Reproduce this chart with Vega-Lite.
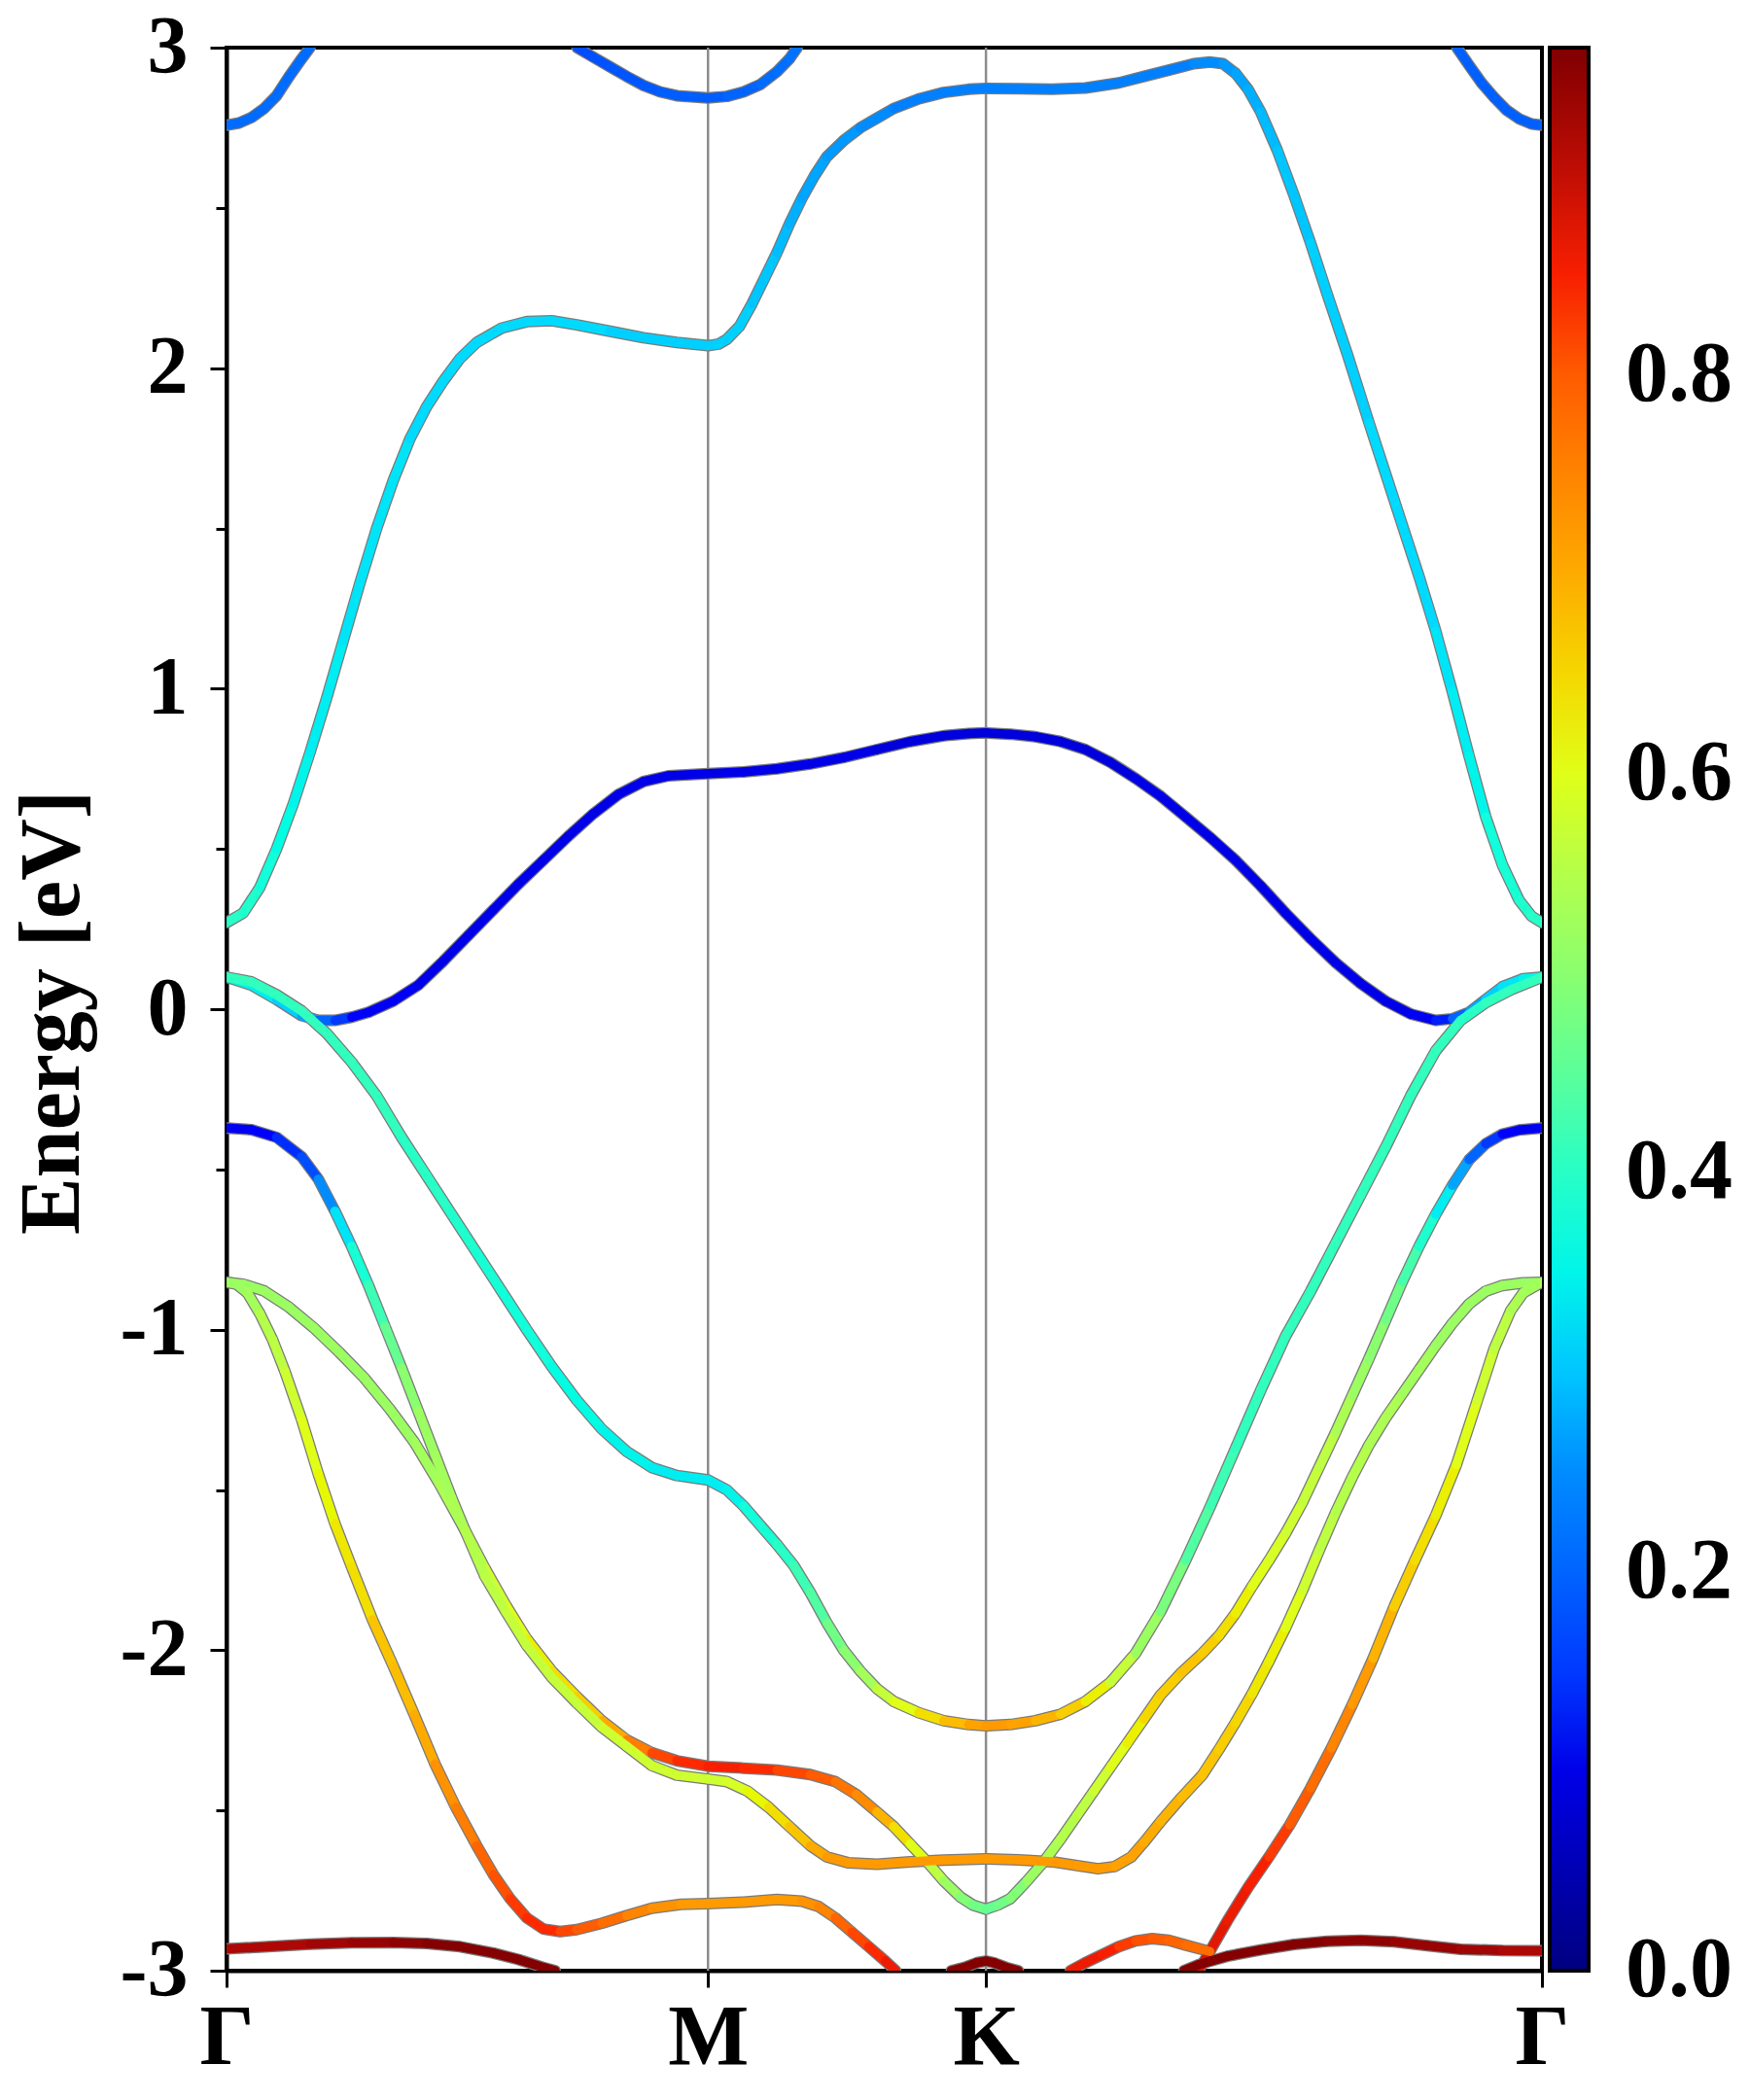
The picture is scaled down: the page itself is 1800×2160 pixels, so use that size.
{
  "$schema": "https://vega.github.io/schema/vega-lite/v6.json",
  "autosize": "none",
  "width": 1353,
  "height": 1978,
  "padding": {"left": 233, "top": 49, "right": 214, "bottom": 133},
  "background": "white",
  "config": {
    "view": {"stroke": "black", "strokeWidth": 4},
    "axis": {
      "labelFont": "Liberation Serif", "labelFontWeight": "bold", "labelColor": "black",
      "titleFont": "Liberation Serif", "titleFontWeight": "bold", "titleColor": "black",
      "domainColor": "black", "domainWidth": 4, "tickColor": "black", "tickWidth": 3, "grid": false
    }
  },
  "datasets": {
    "sym": [{"k": 0.5774}, {"k": 0.9107}],
    "bands": [
      {"band": "C1", "k": 0, "e": 2.758, "w": 0.21},
      {"band": "C1", "k": 0.015, "e": 2.765, "w": 0.21},
      {"band": "C1", "k": 0.03, "e": 2.782, "w": 0.21},
      {"band": "C1", "k": 0.045, "e": 2.81, "w": 0.21},
      {"band": "C1", "k": 0.06, "e": 2.85, "w": 0.21},
      {"band": "C1", "k": 0.075, "e": 2.91, "w": 0.21},
      {"band": "C1", "k": 0.09, "e": 2.965, "w": 0.21},
      {"band": "C1", "k": 0.1001, "e": 3.0, "w": 0.21},

      {"band": "C1R", "k": 1.4755, "e": 3.0, "w": 0.195},
      {"band": "C1R", "k": 1.49, "e": 2.945, "w": 0.195},
      {"band": "C1R", "k": 1.505, "e": 2.89, "w": 0.195},
      {"band": "C1R", "k": 1.52, "e": 2.845, "w": 0.195},
      {"band": "C1R", "k": 1.535, "e": 2.805, "w": 0.195},
      {"band": "C1R", "k": 1.55, "e": 2.778, "w": 0.195},
      {"band": "C1R", "k": 1.565, "e": 2.762, "w": 0.195},
      {"band": "C1R", "k": 1.5774, "e": 2.758, "w": 0.195},

      {"band": "C2", "k": 0.4204, "e": 3.0, "w": 0.17},
      {"band": "C2", "k": 0.44, "e": 2.97, "w": 0.175},
      {"band": "C2", "k": 0.46, "e": 2.94, "w": 0.18},
      {"band": "C2", "k": 0.48, "e": 2.91, "w": 0.18},
      {"band": "C2", "k": 0.5, "e": 2.882, "w": 0.185},
      {"band": "C2", "k": 0.52, "e": 2.862, "w": 0.19},
      {"band": "C2", "k": 0.54, "e": 2.85, "w": 0.19},
      {"band": "C2", "k": 0.5774, "e": 2.843, "w": 0.19},
      {"band": "C2", "k": 0.6, "e": 2.848, "w": 0.2},
      {"band": "C2", "k": 0.62, "e": 2.862, "w": 0.2},
      {"band": "C2", "k": 0.64, "e": 2.885, "w": 0.21},
      {"band": "C2", "k": 0.66, "e": 2.925, "w": 0.215},
      {"band": "C2", "k": 0.675, "e": 2.965, "w": 0.22},
      {"band": "C2", "k": 0.6843, "e": 3.0, "w": 0.22},

      {"band": "C3", "k": 0, "e": 0.27, "w": 0.4},
      {"band": "C3", "k": 0.02, "e": 0.3, "w": 0.39},
      {"band": "C3", "k": 0.04, "e": 0.38, "w": 0.37},
      {"band": "C3", "k": 0.06, "e": 0.5, "w": 0.36},
      {"band": "C3", "k": 0.08, "e": 0.64, "w": 0.35},
      {"band": "C3", "k": 0.1, "e": 0.8, "w": 0.34},
      {"band": "C3", "k": 0.12, "e": 0.97, "w": 0.34},
      {"band": "C3", "k": 0.14, "e": 1.15, "w": 0.33},
      {"band": "C3", "k": 0.16, "e": 1.33, "w": 0.33},
      {"band": "C3", "k": 0.18, "e": 1.5, "w": 0.33},
      {"band": "C3", "k": 0.2, "e": 1.65, "w": 0.33},
      {"band": "C3", "k": 0.22, "e": 1.78, "w": 0.32},
      {"band": "C3", "k": 0.24, "e": 1.88, "w": 0.32},
      {"band": "C3", "k": 0.26, "e": 1.96, "w": 0.32},
      {"band": "C3", "k": 0.28, "e": 2.03, "w": 0.32},
      {"band": "C3", "k": 0.3, "e": 2.08, "w": 0.32},
      {"band": "C3", "k": 0.33, "e": 2.125, "w": 0.32},
      {"band": "C3", "k": 0.36, "e": 2.145, "w": 0.32},
      {"band": "C3", "k": 0.39, "e": 2.148, "w": 0.32},
      {"band": "C3", "k": 0.42, "e": 2.135, "w": 0.32},
      {"band": "C3", "k": 0.46, "e": 2.115, "w": 0.31},
      {"band": "C3", "k": 0.5, "e": 2.095, "w": 0.31},
      {"band": "C3", "k": 0.54, "e": 2.08, "w": 0.31},
      {"band": "C3", "k": 0.5774, "e": 2.07, "w": 0.31},
      {"band": "C3", "k": 0.59, "e": 2.075, "w": 0.31},
      {"band": "C3", "k": 0.6, "e": 2.09, "w": 0.31},
      {"band": "C3", "k": 0.615, "e": 2.13, "w": 0.31},
      {"band": "C3", "k": 0.63, "e": 2.2, "w": 0.3},
      {"band": "C3", "k": 0.645, "e": 2.28, "w": 0.3},
      {"band": "C3", "k": 0.66, "e": 2.36, "w": 0.29},
      {"band": "C3", "k": 0.675, "e": 2.45, "w": 0.28},
      {"band": "C3", "k": 0.69, "e": 2.53, "w": 0.27},
      {"band": "C3", "k": 0.705, "e": 2.6, "w": 0.27},
      {"band": "C3", "k": 0.72, "e": 2.66, "w": 0.26},
      {"band": "C3", "k": 0.74, "e": 2.71, "w": 0.26},
      {"band": "C3", "k": 0.76, "e": 2.75, "w": 0.25},
      {"band": "C3", "k": 0.78, "e": 2.78, "w": 0.25},
      {"band": "C3", "k": 0.8, "e": 2.81, "w": 0.24},
      {"band": "C3", "k": 0.83, "e": 2.84, "w": 0.24},
      {"band": "C3", "k": 0.86, "e": 2.86, "w": 0.24},
      {"band": "C3", "k": 0.89, "e": 2.87, "w": 0.24},
      {"band": "C3", "k": 0.9107, "e": 2.873, "w": 0.24},
      {"band": "C3", "k": 0.95, "e": 2.872, "w": 0.24},
      {"band": "C3", "k": 0.99, "e": 2.87, "w": 0.24},
      {"band": "C3", "k": 1.03, "e": 2.874, "w": 0.24},
      {"band": "C3", "k": 1.07, "e": 2.89, "w": 0.24},
      {"band": "C3", "k": 1.1, "e": 2.91, "w": 0.24},
      {"band": "C3", "k": 1.13, "e": 2.93, "w": 0.24},
      {"band": "C3", "k": 1.16, "e": 2.95, "w": 0.25},
      {"band": "C3", "k": 1.18, "e": 2.955, "w": 0.25},
      {"band": "C3", "k": 1.195, "e": 2.95, "w": 0.26},
      {"band": "C3", "k": 1.21, "e": 2.92, "w": 0.27},
      {"band": "C3", "k": 1.225, "e": 2.87, "w": 0.28},
      {"band": "C3", "k": 1.24, "e": 2.8, "w": 0.29},
      {"band": "C3", "k": 1.26, "e": 2.68, "w": 0.3},
      {"band": "C3", "k": 1.28, "e": 2.54, "w": 0.3},
      {"band": "C3", "k": 1.3, "e": 2.39, "w": 0.31},
      {"band": "C3", "k": 1.32, "e": 2.23, "w": 0.31},
      {"band": "C3", "k": 1.3445, "e": 2.04, "w": 0.31},
      {"band": "C3", "k": 1.37, "e": 1.83, "w": 0.32},
      {"band": "C3", "k": 1.4, "e": 1.59, "w": 0.32},
      {"band": "C3", "k": 1.43, "e": 1.35, "w": 0.32},
      {"band": "C3", "k": 1.45, "e": 1.18, "w": 0.33},
      {"band": "C3", "k": 1.47, "e": 0.99, "w": 0.34},
      {"band": "C3", "k": 1.49, "e": 0.79, "w": 0.35},
      {"band": "C3", "k": 1.51, "e": 0.6, "w": 0.37},
      {"band": "C3", "k": 1.53, "e": 0.45, "w": 0.38},
      {"band": "C3", "k": 1.55, "e": 0.34, "w": 0.39},
      {"band": "C3", "k": 1.565, "e": 0.29, "w": 0.4},
      {"band": "C3", "k": 1.5774, "e": 0.27, "w": 0.4},

      {"band": "C4", "k": 0, "e": 0.1, "w": 0.35},
      {"band": "C4", "k": 0.03, "e": 0.075, "w": 0.34},
      {"band": "C4", "k": 0.06, "e": 0.03, "w": 0.31},
      {"band": "C4", "k": 0.09, "e": -0.02, "w": 0.27},
      {"band": "C4", "k": 0.11, "e": -0.035, "w": 0.2},
      {"band": "C4", "k": 0.13, "e": -0.035, "w": 0.15},
      {"band": "C4", "k": 0.15, "e": -0.025, "w": 0.12},
      {"band": "C4", "k": 0.17, "e": -0.01, "w": 0.11},
      {"band": "C4", "k": 0.2, "e": 0.025, "w": 0.11},
      {"band": "C4", "k": 0.23, "e": 0.075, "w": 0.1},
      {"band": "C4", "k": 0.26, "e": 0.15, "w": 0.1},
      {"band": "C4", "k": 0.29, "e": 0.23, "w": 0.1},
      {"band": "C4", "k": 0.32, "e": 0.31, "w": 0.1},
      {"band": "C4", "k": 0.35, "e": 0.39, "w": 0.1},
      {"band": "C4", "k": 0.38, "e": 0.465, "w": 0.1},
      {"band": "C4", "k": 0.41, "e": 0.54, "w": 0.1},
      {"band": "C4", "k": 0.44, "e": 0.61, "w": 0.1},
      {"band": "C4", "k": 0.47, "e": 0.67, "w": 0.1},
      {"band": "C4", "k": 0.5, "e": 0.71, "w": 0.1},
      {"band": "C4", "k": 0.53, "e": 0.728, "w": 0.1},
      {"band": "C4", "k": 0.5774, "e": 0.735, "w": 0.1},
      {"band": "C4", "k": 0.62, "e": 0.74, "w": 0.1},
      {"band": "C4", "k": 0.66, "e": 0.75, "w": 0.1},
      {"band": "C4", "k": 0.7, "e": 0.765, "w": 0.1},
      {"band": "C4", "k": 0.74, "e": 0.785, "w": 0.1},
      {"band": "C4", "k": 0.78, "e": 0.81, "w": 0.09},
      {"band": "C4", "k": 0.82, "e": 0.835, "w": 0.09},
      {"band": "C4", "k": 0.86, "e": 0.853, "w": 0.09},
      {"band": "C4", "k": 0.89, "e": 0.86, "w": 0.09},
      {"band": "C4", "k": 0.9107, "e": 0.862, "w": 0.09},
      {"band": "C4", "k": 0.94, "e": 0.858, "w": 0.09},
      {"band": "C4", "k": 0.97, "e": 0.85, "w": 0.09},
      {"band": "C4", "k": 1.0, "e": 0.835, "w": 0.09},
      {"band": "C4", "k": 1.03, "e": 0.81, "w": 0.09},
      {"band": "C4", "k": 1.06, "e": 0.77, "w": 0.09},
      {"band": "C4", "k": 1.09, "e": 0.72, "w": 0.1},
      {"band": "C4", "k": 1.12, "e": 0.665, "w": 0.1},
      {"band": "C4", "k": 1.15, "e": 0.6, "w": 0.1},
      {"band": "C4", "k": 1.18, "e": 0.535, "w": 0.1},
      {"band": "C4", "k": 1.21, "e": 0.465, "w": 0.1},
      {"band": "C4", "k": 1.24, "e": 0.385, "w": 0.1},
      {"band": "C4", "k": 1.27, "e": 0.3, "w": 0.1},
      {"band": "C4", "k": 1.3, "e": 0.22, "w": 0.1},
      {"band": "C4", "k": 1.33, "e": 0.145, "w": 0.1},
      {"band": "C4", "k": 1.36, "e": 0.08, "w": 0.1},
      {"band": "C4", "k": 1.39, "e": 0.025, "w": 0.1},
      {"band": "C4", "k": 1.42, "e": -0.015, "w": 0.11},
      {"band": "C4", "k": 1.45, "e": -0.035, "w": 0.13},
      {"band": "C4", "k": 1.47, "e": -0.03, "w": 0.2},
      {"band": "C4", "k": 1.49, "e": -0.01, "w": 0.27},
      {"band": "C4", "k": 1.51, "e": 0.03, "w": 0.31},
      {"band": "C4", "k": 1.53, "e": 0.07, "w": 0.33},
      {"band": "C4", "k": 1.555, "e": 0.095, "w": 0.35},
      {"band": "C4", "k": 1.5774, "e": 0.1, "w": 0.35},

      {"band": "B", "k": 0, "e": 0.1, "w": 0.41},
      {"band": "B", "k": 0.03, "e": 0.085, "w": 0.41},
      {"band": "B", "k": 0.06, "e": 0.045, "w": 0.41},
      {"band": "B", "k": 0.09, "e": -0.005, "w": 0.41},
      {"band": "B", "k": 0.12, "e": -0.075, "w": 0.41},
      {"band": "B", "k": 0.15, "e": -0.165, "w": 0.41},
      {"band": "B", "k": 0.18, "e": -0.27, "w": 0.41},
      {"band": "B", "k": 0.21, "e": -0.4, "w": 0.4},
      {"band": "B", "k": 0.24, "e": -0.52, "w": 0.4},
      {"band": "B", "k": 0.27, "e": -0.64, "w": 0.39},
      {"band": "B", "k": 0.3, "e": -0.76, "w": 0.38},
      {"band": "B", "k": 0.33, "e": -0.88, "w": 0.37},
      {"band": "B", "k": 0.36, "e": -1.0, "w": 0.37},
      {"band": "B", "k": 0.39, "e": -1.115, "w": 0.36},
      {"band": "B", "k": 0.42, "e": -1.22, "w": 0.36},
      {"band": "B", "k": 0.45, "e": -1.31, "w": 0.35},
      {"band": "B", "k": 0.48, "e": -1.38, "w": 0.35},
      {"band": "B", "k": 0.51, "e": -1.43, "w": 0.34},
      {"band": "B", "k": 0.54, "e": -1.455, "w": 0.34},
      {"band": "B", "k": 0.5774, "e": -1.469, "w": 0.34},
      {"band": "B", "k": 0.6, "e": -1.5, "w": 0.35},
      {"band": "B", "k": 0.62, "e": -1.55, "w": 0.37},
      {"band": "B", "k": 0.64, "e": -1.61, "w": 0.38},
      {"band": "B", "k": 0.66, "e": -1.67, "w": 0.4},
      {"band": "B", "k": 0.68, "e": -1.735, "w": 0.42},
      {"band": "B", "k": 0.7, "e": -1.82, "w": 0.44},
      {"band": "B", "k": 0.72, "e": -1.915, "w": 0.47},
      {"band": "B", "k": 0.74, "e": -2.0, "w": 0.5},
      {"band": "B", "k": 0.76, "e": -2.065, "w": 0.53},
      {"band": "B", "k": 0.78, "e": -2.12, "w": 0.57},
      {"band": "B", "k": 0.8, "e": -2.16, "w": 0.6},
      {"band": "B", "k": 0.83, "e": -2.195, "w": 0.64},
      {"band": "B", "k": 0.86, "e": -2.22, "w": 0.68},
      {"band": "B", "k": 0.89, "e": -2.232, "w": 0.71},
      {"band": "B", "k": 0.9107, "e": -2.236, "w": 0.72},
      {"band": "B", "k": 0.94, "e": -2.232, "w": 0.71},
      {"band": "B", "k": 0.97, "e": -2.22, "w": 0.69},
      {"band": "B", "k": 1.0, "e": -2.2, "w": 0.66},
      {"band": "B", "k": 1.03, "e": -2.16, "w": 0.62},
      {"band": "B", "k": 1.06, "e": -2.1, "w": 0.57},
      {"band": "B", "k": 1.09, "e": -2.01, "w": 0.52},
      {"band": "B", "k": 1.12, "e": -1.88, "w": 0.48},
      {"band": "B", "k": 1.15, "e": -1.72, "w": 0.44},
      {"band": "B", "k": 1.18, "e": -1.55, "w": 0.42},
      {"band": "B", "k": 1.21, "e": -1.37, "w": 0.41},
      {"band": "B", "k": 1.24, "e": -1.19, "w": 0.41},
      {"band": "B", "k": 1.27, "e": -1.02, "w": 0.41},
      {"band": "B", "k": 1.3, "e": -0.88, "w": 0.41},
      {"band": "B", "k": 1.33, "e": -0.73, "w": 0.41},
      {"band": "B", "k": 1.36, "e": -0.58, "w": 0.41},
      {"band": "B", "k": 1.39, "e": -0.43, "w": 0.41},
      {"band": "B", "k": 1.42, "e": -0.27, "w": 0.41},
      {"band": "B", "k": 1.45, "e": -0.13, "w": 0.41},
      {"band": "B", "k": 1.48, "e": -0.035, "w": 0.4},
      {"band": "B", "k": 1.51, "e": 0.02, "w": 0.41},
      {"band": "B", "k": 1.54, "e": 0.06, "w": 0.41},
      {"band": "B", "k": 1.5774, "e": 0.1, "w": 0.41},

      {"band": "PU", "k": 0, "e": -0.852, "w": 0.52},
      {"band": "PU", "k": 0.02, "e": -0.858, "w": 0.52},
      {"band": "PU", "k": 0.045, "e": -0.879, "w": 0.52},
      {"band": "PU", "k": 0.075, "e": -0.93, "w": 0.52},
      {"band": "PU", "k": 0.105, "e": -0.995, "w": 0.52},
      {"band": "PU", "k": 0.135, "e": -1.07, "w": 0.52},
      {"band": "PU", "k": 0.165, "e": -1.15, "w": 0.52},
      {"band": "PU", "k": 0.195, "e": -1.245, "w": 0.52},
      {"band": "PU", "k": 0.225, "e": -1.35, "w": 0.53},
      {"band": "PU", "k": 0.255, "e": -1.48, "w": 0.54},
      {"band": "PU", "k": 0.286, "e": -1.626, "w": 0.55},
      {"band": "PU", "k": 0.31, "e": -1.745, "w": 0.58},
      {"band": "PU", "k": 0.335, "e": -1.86, "w": 0.6},
      {"band": "PU", "k": 0.36, "e": -1.965, "w": 0.62},
      {"band": "PU", "k": 0.39, "e": -2.065, "w": 0.64},
      {"band": "PU", "k": 0.42, "e": -2.145, "w": 0.66},
      {"band": "PU", "k": 0.45, "e": -2.22, "w": 0.7},
      {"band": "PU", "k": 0.48, "e": -2.28, "w": 0.76},
      {"band": "PU", "k": 0.51, "e": -2.32, "w": 0.82},
      {"band": "PU", "k": 0.54, "e": -2.345, "w": 0.84},
      {"band": "PU", "k": 0.5774, "e": -2.362, "w": 0.85},
      {"band": "PU", "k": 0.62, "e": -2.368, "w": 0.84},
      {"band": "PU", "k": 0.66, "e": -2.374, "w": 0.82},
      {"band": "PU", "k": 0.7, "e": -2.388, "w": 0.8},
      {"band": "PU", "k": 0.73, "e": -2.41, "w": 0.77},
      {"band": "PU", "k": 0.755, "e": -2.45, "w": 0.74},
      {"band": "PU", "k": 0.78, "e": -2.505, "w": 0.69},
      {"band": "PU", "k": 0.8, "e": -2.55, "w": 0.64},
      {"band": "PU", "k": 0.82, "e": -2.605, "w": 0.6},
      {"band": "PU", "k": 0.84, "e": -2.66, "w": 0.56},
      {"band": "PU", "k": 0.86, "e": -2.72, "w": 0.52},
      {"band": "PU", "k": 0.88, "e": -2.77, "w": 0.49},
      {"band": "PU", "k": 0.895, "e": -2.795, "w": 0.47},
      {"band": "PU", "k": 0.9107, "e": -2.808, "w": 0.46},
      {"band": "PU", "k": 0.925, "e": -2.795, "w": 0.47},
      {"band": "PU", "k": 0.94, "e": -2.775, "w": 0.49},
      {"band": "PU", "k": 0.96, "e": -2.72, "w": 0.52},
      {"band": "PU", "k": 0.98, "e": -2.66, "w": 0.54},
      {"band": "PU", "k": 1.0, "e": -2.59, "w": 0.55},
      {"band": "PU", "k": 1.02, "e": -2.515, "w": 0.56},
      {"band": "PU", "k": 1.04, "e": -2.44, "w": 0.58},
      {"band": "PU", "k": 1.06, "e": -2.365, "w": 0.6},
      {"band": "PU", "k": 1.08, "e": -2.29, "w": 0.62},
      {"band": "PU", "k": 1.1, "e": -2.215, "w": 0.65},
      {"band": "PU", "k": 1.12, "e": -2.14, "w": 0.66},
      {"band": "PU", "k": 1.145, "e": -2.07, "w": 0.67},
      {"band": "PU", "k": 1.17, "e": -2.01, "w": 0.66},
      {"band": "PU", "k": 1.19, "e": -1.955, "w": 0.64},
      {"band": "PU", "k": 1.21, "e": -1.885, "w": 0.62},
      {"band": "PU", "k": 1.23, "e": -1.8, "w": 0.6},
      {"band": "PU", "k": 1.25, "e": -1.72, "w": 0.59},
      {"band": "PU", "k": 1.27, "e": -1.635, "w": 0.58},
      {"band": "PU", "k": 1.29, "e": -1.54, "w": 0.57},
      {"band": "PU", "k": 1.31, "e": -1.43, "w": 0.56},
      {"band": "PU", "k": 1.33, "e": -1.32, "w": 0.54},
      {"band": "PU", "k": 1.35, "e": -1.205, "w": 0.52},
      {"band": "PU", "k": 1.37, "e": -1.09, "w": 0.5},
      {"band": "PU", "k": 1.39, "e": -0.97, "w": 0.47},
      {"band": "PU", "k": 1.41, "e": -0.85, "w": 0.43},
      {"band": "PU", "k": 1.43, "e": -0.74, "w": 0.39},
      {"band": "PU", "k": 1.45, "e": -0.64, "w": 0.34},
      {"band": "PU", "k": 1.47, "e": -0.55, "w": 0.27},
      {"band": "PU", "k": 1.49, "e": -0.47, "w": 0.2},
      {"band": "PU", "k": 1.51, "e": -0.42, "w": 0.15},
      {"band": "PU", "k": 1.53, "e": -0.39, "w": 0.12},
      {"band": "PU", "k": 1.55, "e": -0.377, "w": 0.11},
      {"band": "PU", "k": 1.5774, "e": -0.371, "w": 0.1},

      {"band": "QL", "k": 0, "e": -0.371, "w": 0.11},
      {"band": "QL", "k": 0.03, "e": -0.376, "w": 0.12},
      {"band": "QL", "k": 0.06, "e": -0.4, "w": 0.14},
      {"band": "QL", "k": 0.09, "e": -0.46, "w": 0.17},
      {"band": "QL", "k": 0.11, "e": -0.53, "w": 0.25},
      {"band": "QL", "k": 0.13, "e": -0.63, "w": 0.33},
      {"band": "QL", "k": 0.15, "e": -0.74, "w": 0.38},
      {"band": "QL", "k": 0.17, "e": -0.86, "w": 0.42},
      {"band": "QL", "k": 0.19, "e": -0.99, "w": 0.46},
      {"band": "QL", "k": 0.21, "e": -1.12, "w": 0.5},
      {"band": "QL", "k": 0.23, "e": -1.255, "w": 0.52},
      {"band": "QL", "k": 0.25, "e": -1.39, "w": 0.53},
      {"band": "QL", "k": 0.27, "e": -1.525, "w": 0.54},
      {"band": "QL", "k": 0.286, "e": -1.626, "w": 0.55},
      {"band": "QL", "k": 0.31, "e": -1.77, "w": 0.56},
      {"band": "QL", "k": 0.335, "e": -1.88, "w": 0.57},
      {"band": "QL", "k": 0.36, "e": -1.985, "w": 0.57},
      {"band": "QL", "k": 0.39, "e": -2.085, "w": 0.57},
      {"band": "QL", "k": 0.42, "e": -2.165, "w": 0.57},
      {"band": "QL", "k": 0.45, "e": -2.24, "w": 0.58},
      {"band": "QL", "k": 0.48, "e": -2.3, "w": 0.58},
      {"band": "QL", "k": 0.51, "e": -2.36, "w": 0.58},
      {"band": "QL", "k": 0.54, "e": -2.39, "w": 0.58},
      {"band": "QL", "k": 0.5774, "e": -2.402, "w": 0.58},
      {"band": "QL", "k": 0.6, "e": -2.41, "w": 0.59},
      {"band": "QL", "k": 0.625, "e": -2.44, "w": 0.61},
      {"band": "QL", "k": 0.65, "e": -2.49, "w": 0.64},
      {"band": "QL", "k": 0.675, "e": -2.55, "w": 0.67},
      {"band": "QL", "k": 0.7, "e": -2.61, "w": 0.7},
      {"band": "QL", "k": 0.72, "e": -2.645, "w": 0.72},
      {"band": "QL", "k": 0.745, "e": -2.663, "w": 0.72},
      {"band": "QL", "k": 0.78, "e": -2.668, "w": 0.72},
      {"band": "QL", "k": 0.82, "e": -2.66, "w": 0.72},
      {"band": "QL", "k": 0.86, "e": -2.655, "w": 0.72},
      {"band": "QL", "k": 0.9107, "e": -2.651, "w": 0.72},
      {"band": "QL", "k": 0.95, "e": -2.654, "w": 0.72},
      {"band": "QL", "k": 0.99, "e": -2.66, "w": 0.72},
      {"band": "QL", "k": 1.02, "e": -2.672, "w": 0.72},
      {"band": "QL", "k": 1.045, "e": -2.682, "w": 0.72},
      {"band": "QL", "k": 1.065, "e": -2.675, "w": 0.71},
      {"band": "QL", "k": 1.085, "e": -2.645, "w": 0.71},
      {"band": "QL", "k": 1.1, "e": -2.6, "w": 0.7},
      {"band": "QL", "k": 1.12, "e": -2.535, "w": 0.69},
      {"band": "QL", "k": 1.145, "e": -2.46, "w": 0.68},
      {"band": "QL", "k": 1.17, "e": -2.39, "w": 0.67},
      {"band": "QL", "k": 1.19, "e": -2.31, "w": 0.66},
      {"band": "QL", "k": 1.21, "e": -2.225, "w": 0.65},
      {"band": "QL", "k": 1.23, "e": -2.135, "w": 0.63},
      {"band": "QL", "k": 1.25, "e": -2.035, "w": 0.62},
      {"band": "QL", "k": 1.27, "e": -1.93, "w": 0.6},
      {"band": "QL", "k": 1.29, "e": -1.815, "w": 0.58},
      {"band": "QL", "k": 1.31, "e": -1.69, "w": 0.56},
      {"band": "QL", "k": 1.33, "e": -1.57, "w": 0.55},
      {"band": "QL", "k": 1.35, "e": -1.46, "w": 0.55},
      {"band": "QL", "k": 1.37, "e": -1.36, "w": 0.54},
      {"band": "QL", "k": 1.39, "e": -1.275, "w": 0.54},
      {"band": "QL", "k": 1.41, "e": -1.2, "w": 0.53},
      {"band": "QL", "k": 1.43, "e": -1.125, "w": 0.53},
      {"band": "QL", "k": 1.45, "e": -1.05, "w": 0.52},
      {"band": "QL", "k": 1.47, "e": -0.98, "w": 0.52},
      {"band": "QL", "k": 1.49, "e": -0.92, "w": 0.52},
      {"band": "QL", "k": 1.51, "e": -0.88, "w": 0.52},
      {"band": "QL", "k": 1.53, "e": -0.862, "w": 0.52},
      {"band": "QL", "k": 1.555, "e": -0.854, "w": 0.52},
      {"band": "QL", "k": 1.5774, "e": -0.852, "w": 0.52},

      {"band": "Y", "k": 0, "e": -0.852, "w": 0.52},
      {"band": "Y", "k": 0.012, "e": -0.858, "w": 0.52},
      {"band": "Y", "k": 0.025, "e": -0.885, "w": 0.53},
      {"band": "Y", "k": 0.04, "e": -0.95, "w": 0.55},
      {"band": "Y", "k": 0.055, "e": -1.03, "w": 0.56},
      {"band": "Y", "k": 0.07, "e": -1.13, "w": 0.58},
      {"band": "Y", "k": 0.09, "e": -1.28, "w": 0.6},
      {"band": "Y", "k": 0.11, "e": -1.45, "w": 0.61},
      {"band": "Y", "k": 0.13, "e": -1.605, "w": 0.63},
      {"band": "Y", "k": 0.15, "e": -1.74, "w": 0.64},
      {"band": "Y", "k": 0.175, "e": -1.905, "w": 0.67},
      {"band": "Y", "k": 0.2, "e": -2.05, "w": 0.68},
      {"band": "Y", "k": 0.225, "e": -2.2, "w": 0.7},
      {"band": "Y", "k": 0.25, "e": -2.355, "w": 0.73},
      {"band": "Y", "k": 0.275, "e": -2.49, "w": 0.76},
      {"band": "Y", "k": 0.3, "e": -2.61, "w": 0.79},
      {"band": "Y", "k": 0.32, "e": -2.7, "w": 0.81},
      {"band": "Y", "k": 0.34, "e": -2.775, "w": 0.83},
      {"band": "Y", "k": 0.36, "e": -2.835, "w": 0.84},
      {"band": "Y", "k": 0.38, "e": -2.87, "w": 0.84},
      {"band": "Y", "k": 0.4, "e": -2.878, "w": 0.82},
      {"band": "Y", "k": 0.42, "e": -2.872, "w": 0.8},
      {"band": "Y", "k": 0.45, "e": -2.852, "w": 0.78},
      {"band": "Y", "k": 0.48, "e": -2.828, "w": 0.75},
      {"band": "Y", "k": 0.51, "e": -2.805, "w": 0.73},
      {"band": "Y", "k": 0.545, "e": -2.793, "w": 0.72},
      {"band": "Y", "k": 0.5774, "e": -2.791, "w": 0.72},
      {"band": "Y", "k": 0.62, "e": -2.786, "w": 0.72},
      {"band": "Y", "k": 0.66, "e": -2.778, "w": 0.72},
      {"band": "Y", "k": 0.69, "e": -2.783, "w": 0.73},
      {"band": "Y", "k": 0.71, "e": -2.8, "w": 0.75},
      {"band": "Y", "k": 0.73, "e": -2.835, "w": 0.79},
      {"band": "Y", "k": 0.75, "e": -2.88, "w": 0.82},
      {"band": "Y", "k": 0.77, "e": -2.925, "w": 0.84},
      {"band": "Y", "k": 0.79, "e": -2.97, "w": 0.86},
      {"band": "Y", "k": 0.8024, "e": -3.0, "w": 0.86},

      {"band": "Y2", "k": 1.1655, "e": -3.0, "w": 0.88},
      {"band": "Y2", "k": 1.1791, "e": -2.94, "w": 0.87},
      {"band": "Y2", "k": 1.2, "e": -2.845, "w": 0.86},
      {"band": "Y2", "k": 1.225, "e": -2.74, "w": 0.85},
      {"band": "Y2", "k": 1.25, "e": -2.645, "w": 0.83},
      {"band": "Y2", "k": 1.275, "e": -2.545, "w": 0.8},
      {"band": "Y2", "k": 1.3, "e": -2.43, "w": 0.78},
      {"band": "Y2", "k": 1.325, "e": -2.305, "w": 0.75},
      {"band": "Y2", "k": 1.35, "e": -2.17, "w": 0.72},
      {"band": "Y2", "k": 1.375, "e": -2.025, "w": 0.69},
      {"band": "Y2", "k": 1.4, "e": -1.865, "w": 0.66},
      {"band": "Y2", "k": 1.425, "e": -1.72, "w": 0.64},
      {"band": "Y2", "k": 1.45, "e": -1.58, "w": 0.62},
      {"band": "Y2", "k": 1.475, "e": -1.42, "w": 0.6},
      {"band": "Y2", "k": 1.5, "e": -1.22, "w": 0.58},
      {"band": "Y2", "k": 1.52, "e": -1.06, "w": 0.56},
      {"band": "Y2", "k": 1.54, "e": -0.94, "w": 0.54},
      {"band": "Y2", "k": 1.555, "e": -0.885, "w": 0.53},
      {"band": "Y2", "k": 1.5774, "e": -0.852, "w": 0.52},

      {"band": "DR1", "k": 0, "e": -2.932, "w": 0.92},
      {"band": "DR1", "k": 0.05, "e": -2.925, "w": 0.92},
      {"band": "DR1", "k": 0.1, "e": -2.917, "w": 0.93},
      {"band": "DR1", "k": 0.15, "e": -2.913, "w": 0.94},
      {"band": "DR1", "k": 0.2, "e": -2.912, "w": 0.95},
      {"band": "DR1", "k": 0.24, "e": -2.915, "w": 0.96},
      {"band": "DR1", "k": 0.28, "e": -2.925, "w": 0.96},
      {"band": "DR1", "k": 0.32, "e": -2.945, "w": 0.96},
      {"band": "DR1", "k": 0.35, "e": -2.965, "w": 0.96},
      {"band": "DR1", "k": 0.38, "e": -2.99, "w": 0.96},
      {"band": "DR1", "k": 0.3941, "e": -3.0, "w": 0.96},

      {"band": "DRK", "k": 0.8692, "e": -3.0, "w": 0.96},
      {"band": "DRK", "k": 0.885, "e": -2.99, "w": 0.96},
      {"band": "DRK", "k": 0.9, "e": -2.975, "w": 0.96},
      {"band": "DRK", "k": 0.9107, "e": -2.97, "w": 0.96},
      {"band": "DRK", "k": 0.92, "e": -2.975, "w": 0.96},
      {"band": "DRK", "k": 0.935, "e": -2.99, "w": 0.96},
      {"band": "DRK", "k": 0.9494, "e": -3.0, "w": 0.96},

      {"band": "DR2", "k": 1.148, "e": -3.0, "w": 0.96},
      {"band": "DR2", "k": 1.165, "e": -2.982, "w": 0.96},
      {"band": "DR2", "k": 1.18, "e": -2.97, "w": 0.96},
      {"band": "DR2", "k": 1.2, "e": -2.955, "w": 0.96},
      {"band": "DR2", "k": 1.24, "e": -2.935, "w": 0.96},
      {"band": "DR2", "k": 1.28, "e": -2.918, "w": 0.96},
      {"band": "DR2", "k": 1.32, "e": -2.908, "w": 0.95},
      {"band": "DR2", "k": 1.36, "e": -2.905, "w": 0.95},
      {"band": "DR2", "k": 1.4, "e": -2.91, "w": 0.94},
      {"band": "DR2", "k": 1.44, "e": -2.922, "w": 0.94},
      {"band": "DR2", "k": 1.48, "e": -2.933, "w": 0.93},
      {"band": "DR2", "k": 1.53, "e": -2.937, "w": 0.92},
      {"band": "DR2", "k": 1.5774, "e": -2.938, "w": 0.92},

      {"band": "BUMP", "k": 1.012, "e": -3.0, "w": 0.86},
      {"band": "BUMP", "k": 1.03, "e": -2.975, "w": 0.86},
      {"band": "BUMP", "k": 1.05, "e": -2.95, "w": 0.85},
      {"band": "BUMP", "k": 1.07, "e": -2.925, "w": 0.83},
      {"band": "BUMP", "k": 1.09, "e": -2.907, "w": 0.81},
      {"band": "BUMP", "k": 1.11, "e": -2.9, "w": 0.8},
      {"band": "BUMP", "k": 1.13, "e": -2.905, "w": 0.79},
      {"band": "BUMP", "k": 1.15, "e": -2.92, "w": 0.78},
      {"band": "BUMP", "k": 1.1791, "e": -2.94, "w": 0.76}
    ]
  },
  "layer": [
    {
      "data": {"name": "sym"},
      "mark": {"type": "rule", "color": "#8c8c8c", "strokeWidth": 2.5},
      "encoding": {
        "x": {"field": "k", "type": "quantitative", "scale": {"domain": [0, 1.5774], "nice": false, "zero": false}}
      }
    },
    {
      "data": {"name": "bands"},
      "mark": {"type": "line", "color": "#7a7a7a", "strokeWidth": 12, "strokeCap": "round", "strokeJoin": "round", "clip": true},
      "encoding": {
        "x": {
          "field": "k", "type": "quantitative",
          "scale": {"domain": [0, 1.5774], "nice": false, "zero": false},
          "axis": {
            "values": [0, 0.5774, 0.9107, 1.5774],
            "labelExpr": "datum.value < 0.3 ? 'Γ' : datum.value < 0.75 ? 'M' : datum.value < 1.2 ? 'K' : 'Γ'",
            "title": null, "tickSize": 17, "labelFontSize": 88, "labelPadding": 78, "labelBaseline": "alphabetic",
            "labelFlush": false, "labelOverlap": false, "labelBound": false
          }
        },
        "y": {
          "field": "e", "type": "quantitative",
          "scale": {"domain": [-3, 3], "nice": false, "zero": false},
          "axis": {
            "values": [-3, -2, -1, 0, 1, 2, 3],
            "labelExpr": "datum.value < 0 ? '-' + abs(datum.value) : '' + datum.value",
            "title": "Energy [eV]", "titleFontSize": 88, "titleX": -153, "titleY": 992,
            "titleAngle": -90, "titleBaseline": "alphabetic", "titleAlign": "center",
            "tickSize": 17, "labelPadding": 23, "labelFontSize": 84,
            "labelFlush": false, "labelOverlap": false, "orient": "left"
          }
        },
        "detail": {"field": "band"}
      }
    },
    {
      "data": {"name": "bands"},
      "transform": [
        {
          "window": [
            {"op": "lead", "field": "k", "as": "k2"},
            {"op": "lead", "field": "e", "as": "e2"}
          ],
          "groupby": ["band"],
          "sort": [{"field": "k", "order": "ascending"}]
        },
        {"filter": "datum.k2 != null"}
      ],
      "mark": {"type": "rule", "strokeWidth": 9.5, "strokeCap": "round", "clip": true},
      "encoding": {
        "x": {"field": "k", "type": "quantitative"},
        "x2": {"field": "k2"},
        "y": {
          "field": "e", "type": "quantitative",
          "axis": {
            "orient": "left", "values": [-2.5, -1.5, -0.5, 0.5, 1.5, 2.5],
            "labels": false, "domain": false, "title": null, "tickSize": 11
          }
        },
        "y2": {"field": "e2"},
        "color": {
          "field": "w", "type": "quantitative",
          "scale": {
            "domain": [0, 0.1205, 0.241, 0.3615, 0.482, 0.6025, 0.723, 0.8435, 0.964],
            "range": ["#000080", "#0000ff", "#0080ff", "#14ffe2", "#7bff7b", "#e2ff14", "#ff9700", "#ff2100", "#800000"]
          },
          "legend": {
            "title": null, "orient": "right", "offset": 8, "padding": 0,
            "gradientLength": 1978, "gradientThickness": 40,
            "gradientStrokeColor": "black", "gradientStrokeWidth": 4,
            "values": [0, 0.2, 0.4, 0.6, 0.8], "format": ".1f",
            "labelFont": "Liberation Serif", "labelFontWeight": "bold", "labelFontSize": 88,
            "labelColor": "black", "labelOffset": 38, "labelOverlap": false, "labelLimit": 300,
            "encode": {"labels": {"update": {"baseline": {"value": "middle"}}}}
          }
        }
      }
    }
  ],
  "resolve": {"axis": {"y": "independent"}}
}
